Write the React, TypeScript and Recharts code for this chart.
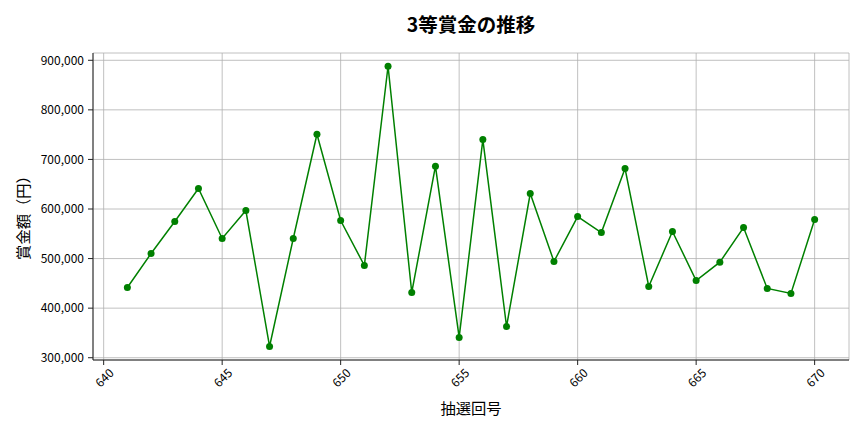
import React from 'react';
import { LineChart, Line, XAxis, YAxis, CartesianGrid, Label } from 'recharts';

// 抽選回号 and 3等賞金
const rounds = [
  641, 642, 643, 644, 645, 646, 647, 648, 649, 650,
  651, 652, 653, 654, 655, 656, 657, 658, 659, 660,
  661, 662, 663, 664, 665, 666, 667, 668, 669, 670,
];
const prizes = [
  441700, 510200, 574700, 641300, 540500, 596900, 322700, 540500, 750800, 576700,
  486000, 887900, 431600, 686300, 340900, 740000, 363000, 631200, 494100, 584800,
  552600, 681600, 443700, 554600, 455800, 492700, 562600, 439700, 429600, 578800,
];
const xTicks = [640, 645, 650, 655, 660, 665, 670];
const yTicks = [300000, 400000, 500000, 600000, 700000, 800000, 900000];

const title = '3等賞金の推移';
const xLabel = '抽選回号';
const yLabel = '賞金額（円）';

const data = rounds.map((r, i) => ({ round: r, prize: prizes[i] }));

const FONT = '"Noto Sans CJK JP", "Noto Sans", sans-serif';

const XTick = (props: any) => {
  const { x, y, payload } = props;
  const cy = y + 10;
  return (
    <text
      x={x}
      y={cy}
      textAnchor="middle"
      dominantBaseline="central"
      fontSize={12}
      fontFamily={FONT}
      fill="#000"
      transform={`rotate(-45 ${x} ${cy})`}
    >
      {payload.value}
    </text>
  );
};

const App: React.FC = () => {
  return (
    <div style={{ position: 'absolute', left: 0, top: 0, width: 864, height: 432, background: '#fff' }}>
      <LineChart
        width={864}
        height={432}
        data={data}
        margin={{ top: 53, right: 15, bottom: 0, left: 0 }}
        style={{ fontFamily: FONT }}
      >
        <CartesianGrid stroke="#b0b0b0" strokeWidth={0.8} />
        <XAxis
          dataKey="round"
          type="number"
          domain={[639.55, 671.45]}
          ticks={xTicks}
          allowDataOverflow
          height={72}
          tickSize={5}
          tickMargin={2}
          tick={<XTick />}
          axisLine={{ stroke: '#222', strokeWidth: 1 }}
          tickLine={{ stroke: '#222' }}
        >
          <Label
            content={() => (
              <text x={471} y={414} textAnchor="middle" fontSize={15.3} fontFamily={FONT} fill="#000">
                {xLabel}
              </text>
            )}
          />
        </XAxis>
        <XAxis
          xAxisId="top"
          orientation="top"
          dataKey="round"
          type="number"
          domain={[639.55, 671.45]}
          height={0}
          tick={false}
          tickLine={false}
          axisLine={{ stroke: '#222', strokeWidth: 1 }}
        />
        <YAxis
          type="number"
          domain={[295400, 914700]}
          ticks={yTicks}
          allowDataOverflow
          width={93}
          tickSize={5}
          tickMargin={4}
          tick={{ fontSize: 12, fill: '#000', fontFamily: FONT }}
          tickFormatter={(v: number) => v.toLocaleString('en-US')}
          axisLine={{ stroke: '#222', strokeWidth: 1 }}
          tickLine={{ stroke: '#222' }}
        >
          <Label
            content={() => (
              <g>
                <text
                  x={22}
                  y={214}
                  textAnchor="middle"
                  dominantBaseline="central"
                  fontSize={15.3}
                  fontFamily={FONT}
                  fill="#000"
                  transform="rotate(-90 22 214)"
                >
                  {yLabel}
                </text>
                <text x={471} y={32} textAnchor="middle" fontSize={19.5} fontWeight="bold" fontFamily={FONT} fill="#000">
                  {title}
                </text>
              </g>
            )}
          />
        </YAxis>
        <YAxis
          yAxisId="right"
          orientation="right"
          width={0}
          tick={false}
          tickLine={false}
          axisLine={{ stroke: '#222', strokeWidth: 1 }}
        />
        <Line
          type="linear"
          dataKey="prize"
          stroke="#008000"
          strokeWidth={1.5}
          dot={{ r: 3.5, fill: '#008000', stroke: 'none' }}
          isAnimationActive={false}
        />
      </LineChart>
    </div>
  );
};

export default App;
